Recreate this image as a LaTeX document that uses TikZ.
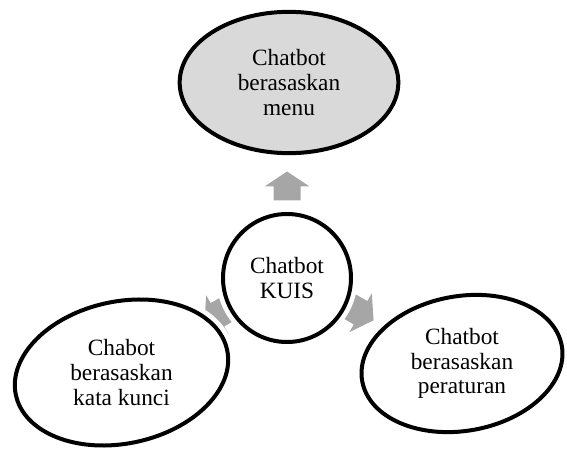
\documentclass[tikz,border=0pt]{standalone}
\usepackage{fontspec}
\setmainfont{Liberation Serif}
\usetikzlibrary{positioning,shapes.geometric}
\definecolor{kuisgray}{RGB}{166,166,166}
\definecolor{menugray}{RGB}{217,217,217}
\tikzset{
  bubble/.style={ellipse,draw=black,line width=3pt,fill=white,inner sep=0pt,preaction={draw=white,line width=10pt}},
  bubbletext/.style={align=center,font=\fontsize{17.5}{18.5}\selectfont},
  blockarrow/.pic={\fill[kuisgray] (-14.5,-13.5) -- (-0.5,-13.5) -- (-0.5,-22.5) -- (14.5,0) -- (-0.5,22.5) -- (-0.5,13.5) -- (-14.5,13.5) -- cycle;}
}
\begin{document}
\begin{tikzpicture}[x=0.75pt,y=0.75pt]
\useasboundingbox (0,0) rectangle (567,450);
% arrows first, the bubbles cover their ends
\path (287,264) pic[rotate=90] {blockarrow};
\path (217,135) pic[rotate=210] {blockarrow};
\path (361,137) pic[rotate=330] {blockarrow};
\node[bubble,circle,bubbletext,minimum size=96pt] (kuis) at (287,172) {Chatbot\\KUIS};
\node[bubble,bubbletext,fill=menugray,minimum width=164pt,minimum height=106pt] (menu) at (289,367.5) {Chatbot\\berasaskan\\menu};
\node[bubble,rotate=12,minimum width=162pt,minimum height=106.5pt] (kunci) at (121.5,77.5) {};
\node[bubbletext] (kuncitext) at (kunci) {Chabot\\berasaskan\\kata kunci};
\node[bubble,rotate=10,minimum width=152pt,minimum height=101pt] (aturan) at (462,86.5) {};
\node[bubbletext] (aturantext) at (aturan) {Chatbot\\berasaskan\\peraturan};
\end{tikzpicture}
\end{document}
